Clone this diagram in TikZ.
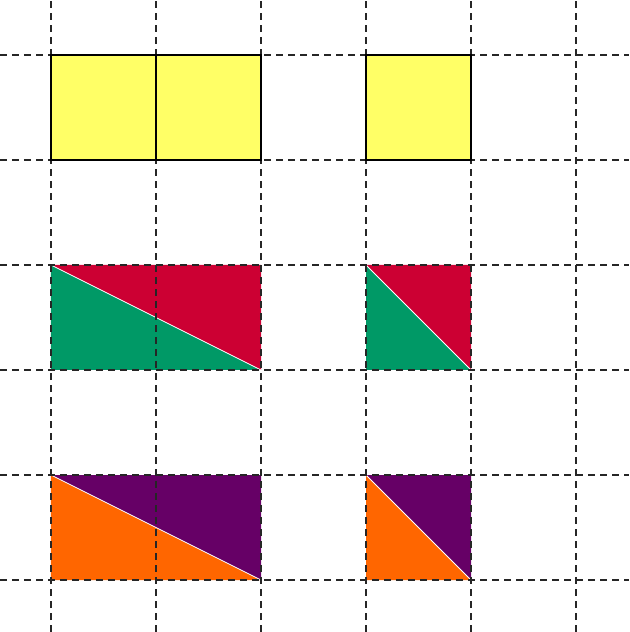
\documentclass[tikz,border=0pt]{standalone}
\definecolor{yel}{HTML}{FFFF66}
\definecolor{rd}{HTML}{CC0033}
\definecolor{gr}{HTML}{009966}
\definecolor{pu}{HTML}{660066}
\definecolor{og}{HTML}{FF6600}
\begin{document}
\begin{tikzpicture}[x=105pt,y=105pt,
  gridline/.style={dash pattern=on 7pt off 5pt, line width=1.1pt, black!85},
  tri/.style={draw=white, line width=0.8pt, line join=round},
  sq/.style={fill=yel, draw=black, line width=1.4pt}]
\useasboundingbox (-0.4857,-0.4952) rectangle (5.5048,5.5238);
% triangles
\fill[gr] (0,3) -- (0,2) -- (2,2) -- cycle;
\fill[rd] (0,3) -- (2,3) -- (2,2) -- cycle;
\fill[gr] (3,3) -- (3,2) -- (4,2) -- cycle;
\fill[rd] (3,3) -- (4,3) -- (4,2) -- cycle;
\fill[og] (0,1) -- (0,0) -- (2,0) -- cycle;
\fill[pu] (0,1) -- (2,1) -- (2,0) -- cycle;
\fill[og] (3,1) -- (3,0) -- (4,0) -- cycle;
\fill[pu] (3,1) -- (4,1) -- (4,0) -- cycle;
\draw[white, line width=0.8pt] (0,3) -- (2,2);
\draw[white, line width=0.8pt] (3,3) -- (4,2);
\draw[white, line width=0.8pt] (0,1) -- (2,0);
\draw[white, line width=0.8pt] (3,1) -- (4,0);
% grid
\foreach \i in {0,...,5} {
  \draw[gridline] (\i,-0.4952) -- (\i,5.5238);
  \draw[gridline] (-0.4857,\i) -- (5.5048,\i);
}
% yellow squares
\draw[sq] (0,4) rectangle (1,5);
\draw[sq] (1,4) rectangle (2,5);
\draw[sq] (3,4) rectangle (4,5);
\end{tikzpicture}
\end{document}
